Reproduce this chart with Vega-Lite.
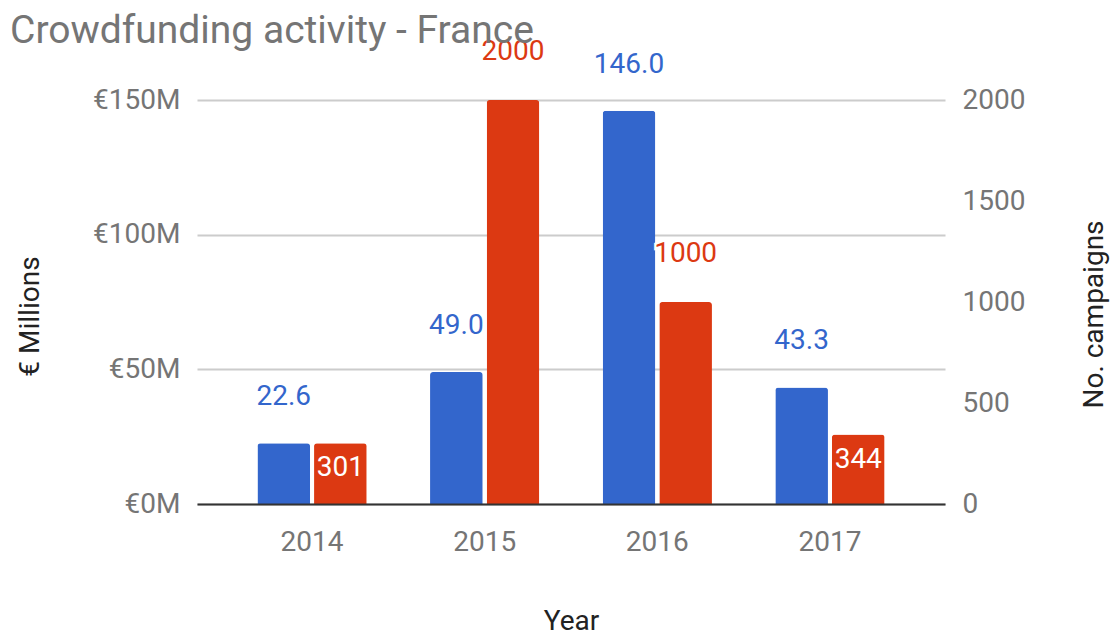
{
  "$schema": "https://vega.github.io/schema/vega-lite/v6.json",
  "width": 748,
  "height": 404,
  "autosize": "none",
  "padding": {"left": 197, "top": 100, "right": 168, "bottom": 129},
  "background": "white",
  "title": {
    "text": "Crowdfunding activity - France",
    "anchor": "start",
    "frame": "group",
    "dx": -187,
    "offset": -44,
    "baseline": "alphabetic",
    "font": "Roboto",
    "fontSize": 39,
    "fontWeight": "normal",
    "color": "#757575"
  },
  "config": {
    "view": {"stroke": null},
    "text": {"font": "Roboto", "fontSize": 28},
    "axis": {
      "labelFont": "Roboto",
      "titleFont": "Roboto",
      "labelFontSize": 28,
      "titleFontSize": 28,
      "labelColor": "#757575",
      "titleColor": "#222222",
      "titleFontWeight": "normal",
      "gridColor": "#cccccc",
      "gridWidth": 2,
      "ticks": false,
      "domain": false
    }
  },
  "data": {
    "values": [
      {"year": "2014", "series": "funds", "value": 22.6, "label": "22.6"},
      {"year": "2015", "series": "funds", "value": 49.0, "label": "49.0"},
      {"year": "2016", "series": "funds", "value": 146.0, "label": "146.0"},
      {"year": "2017", "series": "funds", "value": 43.3, "label": "43.3"},
      {"year": "2014", "series": "campaigns", "value": 301, "label": "301"},
      {"year": "2015", "series": "campaigns", "value": 2000, "label": "2000"},
      {"year": "2016", "series": "campaigns", "value": 1000, "label": "1000"},
      {"year": "2017", "series": "campaigns", "value": 344, "label": "344"}
    ]
  },
  "encoding": {
    "x": {
      "field": "year",
      "type": "ordinal",
      "scale": {"paddingInner": 0.367, "paddingOuter": 0.35},
      "axis": {
        "title": "Year",
        "labelAngle": 0,
        "labelPadding": 24,
        "titlePadding": 51,
        "domain": true,
        "domainColor": "#333333",
        "domainWidth": 2,
        "zindex": 1
      }
    },
    "xOffset": {
      "field": "series",
      "type": "nominal",
      "scale": {"domain": ["funds", "campaigns"], "paddingInner": 0.07}
    }
  },
  "layer": [
    {
      "transform": [{"filter": "datum.series === 'funds'"}],
      "encoding": {
        "y": {
          "field": "value",
          "type": "quantitative",
          "scale": {"domain": [0, 150], "nice": false},
          "axis": {
            "title": "€ Millions",
            "orient": "left",
            "values": [0, 50, 100, 150],
            "labelExpr": "'€' + datum.value + 'M'",
            "labelPadding": 17,
            "titlePadding": 48,
            "titleY": 216
          }
        }
      },
      "layer": [
        {"mark": {"type": "bar", "color": "#3366CC", "cornerRadiusTopLeft": 3, "cornerRadiusTopRight": 3}},
        {
          "mark": {"type": "text", "dy": -46, "baseline": "middle", "stroke": "white", "strokeWidth": 7, "fill": "white"},
          "encoding": {"text": {"field": "label"}}
        },
        {
          "mark": {"type": "text", "dy": -46, "baseline": "middle", "color": "#3366CC"},
          "encoding": {"text": {"field": "label"}}
        }
      ]
    },
    {
      "transform": [{"filter": "datum.series === 'campaigns'"}],
      "encoding": {
        "y": {
          "field": "value",
          "type": "quantitative",
          "scale": {"domain": [0, 2000], "nice": false},
          "axis": {
            "title": "No. campaigns",
            "orient": "right",
            "values": [0, 500, 1000, 1500, 2000],
            "format": "d",
            "labelPadding": 17,
            "titlePadding": 56,
            "titleAngle": 270,
            "titleBaseline": "top",
            "titleY": 214
          }
        }
      },
      "layer": [
        {"mark": {"type": "bar", "color": "#DC3912", "cornerRadiusTopLeft": 3, "cornerRadiusTopRight": 3}},
        {
          "transform": [{"filter": "datum.value >= 500"}],
          "mark": {"type": "text", "dy": -48, "baseline": "middle", "stroke": "white", "strokeWidth": 5, "fill": "white"},
          "encoding": {"text": {"field": "label"}}
        },
        {
          "transform": [{"filter": "datum.value >= 500"}],
          "mark": {"type": "text", "dy": -48, "baseline": "middle", "color": "#DC3912"},
          "encoding": {"text": {"field": "label"}}
        },
        {
          "transform": [{"filter": "datum.value < 500"}],
          "mark": {"type": "text", "dy": 25, "baseline": "middle", "color": "white"},
          "encoding": {"text": {"field": "label"}}
        }
      ]
    }
  ],
  "resolve": {"scale": {"y": "independent"}}
}
